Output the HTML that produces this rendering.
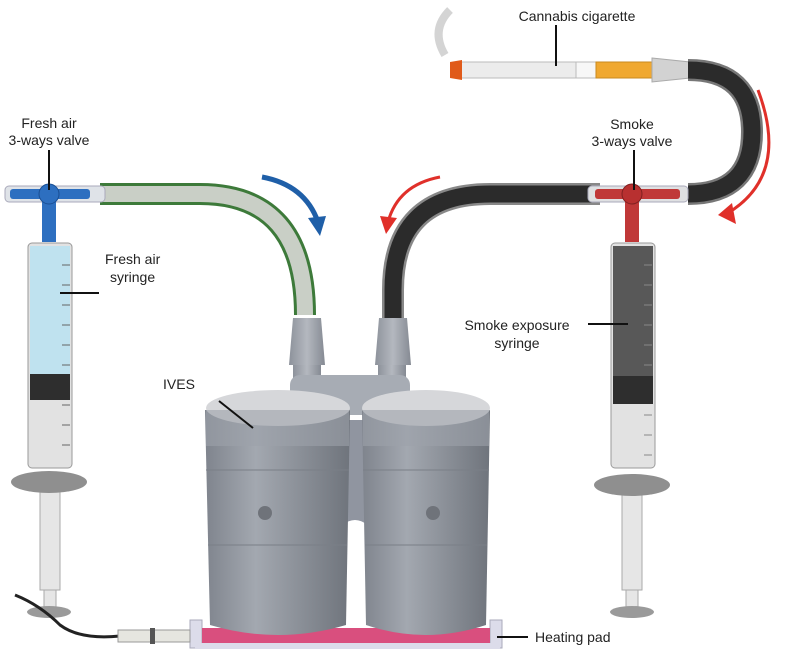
<!DOCTYPE html>
<html><head><meta charset="utf-8"><style>
html,body{margin:0;padding:0;background:#fff;}
svg{display:block;}
text{font-family:"Liberation Sans",sans-serif;font-size:14px;fill:#222;}
</style></head><body>
<svg width="791" height="654" viewBox="0 0 791 654" xmlns="http://www.w3.org/2000/svg">
<defs>
<linearGradient id="cyl" x1="0" x2="1" y1="0" y2="0">
<stop offset="0" stop-color="#7f848d"/><stop offset="0.35" stop-color="#a3a8b0"/><stop offset="1" stop-color="#6f747c"/>
</linearGradient>
<linearGradient id="noz" x1="0" x2="1"><stop offset="0" stop-color="#8d929b"/><stop offset="0.5" stop-color="#b4b8bf"/><stop offset="1" stop-color="#858a93"/></linearGradient>
</defs>

<!-- smoke wisp -->
<path d="M450,10 Q430,30 445,55" stroke="#d4d4d4" stroke-width="8" fill="none"/>

<!-- cigarette -->
<rect x="460" y="62" width="118" height="16" fill="#ececec" stroke="#bbb"/>
<rect x="576" y="62" width="20" height="16" fill="#f7f7f7" stroke="#bbb"/>
<rect x="596" y="62" width="56" height="16" fill="#f0a830" stroke="#c98a20"/>
<path d="M450,62 L462,60 L462,80 L450,78 Z" fill="#e05a1a"/>
<path d="M652,58 L690,62 L690,78 L652,82 Z" fill="#d2d2d2" stroke="#aaa"/>

<!-- right black tube from cigarette to valve -->
<path d="M688,70 Q752,70 752,132 Q752,194 688,194" stroke="#777" stroke-width="22" fill="none"/>
<path d="M688,70 Q752,70 752,132 Q752,194 688,194" stroke="#2b2b2b" stroke-width="17" fill="none"/>

<!-- green tube -->
<path d="M100,194 H200 Q305,194 305,315" stroke="#3d7a3a" stroke-width="22" fill="none"/>
<path d="M100,194 H200 Q305,194 305,315" stroke="#c9cfc6" stroke-width="16" fill="none"/>

<!-- black tube middle -->
<path d="M393,318 V290 Q393,194 490,194 H600" stroke="#888" stroke-width="22" fill="none"/>
<path d="M393,318 V290 Q393,194 490,194 H600" stroke="#2b2b2b" stroke-width="17" fill="none"/>

<!-- left valve -->
<rect x="5" y="186" width="100" height="16" rx="4" fill="#dfe3e8" stroke="#aab"/>
<rect x="10" y="189" width="80" height="10" rx="3" fill="#2d6fc0"/>
<rect x="42" y="194" width="14" height="48" fill="#2d6fc0"/>
<circle cx="49" cy="194" r="10" fill="#2d6fc0" stroke="#1a4f94"/>
<!-- right valve -->
<rect x="588" y="186" width="100" height="16" rx="4" fill="#dfe0e2" stroke="#aab"/>
<rect x="595" y="189" width="85" height="10" rx="3" fill="#c03838"/>
<rect x="625" y="194" width="14" height="48" fill="#c03838"/>
<circle cx="632" cy="194" r="10" fill="#b83030" stroke="#802020"/>

<!-- left syringe -->
<rect x="40" y="490" width="20" height="100" fill="#e6e6e6" stroke="#aaa"/>
<rect x="44" y="590" width="12" height="20" fill="#e6e6e6" stroke="#aaa"/>
<ellipse cx="49" cy="612" rx="22" ry="6" fill="#9a9a9a"/>
<rect x="28" y="243" width="44" height="225" rx="4" fill="#e2e2e2" stroke="#999"/>
<rect x="30" y="246" width="40" height="128" fill="#bfe2ef"/>
<rect x="30" y="374" width="40" height="26" fill="#2e2e2e"/>
<ellipse cx="49" cy="482" rx="38" ry="11" fill="#8f8f8f"/>
<g stroke="#666" stroke-width="1">
<line x1="62" y1="265" x2="70" y2="265"/><line x1="62" y1="285" x2="70" y2="285"/><line x1="62" y1="305" x2="70" y2="305"/><line x1="62" y1="325" x2="70" y2="325"/><line x1="62" y1="345" x2="70" y2="345"/><line x1="62" y1="365" x2="70" y2="365"/><line x1="62" y1="405" x2="70" y2="405"/><line x1="62" y1="425" x2="70" y2="425"/><line x1="62" y1="445" x2="70" y2="445"/>
</g>
<!-- right syringe -->
<rect x="622" y="490" width="20" height="100" fill="#e6e6e6" stroke="#aaa"/>
<rect x="626" y="590" width="12" height="20" fill="#e6e6e6" stroke="#aaa"/>
<ellipse cx="632" cy="612" rx="22" ry="6" fill="#9a9a9a"/>
<rect x="611" y="243" width="44" height="225" rx="4" fill="#e2e2e2" stroke="#999"/>
<rect x="613" y="246" width="40" height="130" fill="#585858"/>
<rect x="613" y="376" width="40" height="28" fill="#2e2e2e"/>
<ellipse cx="632" cy="485" rx="38" ry="11" fill="#8f8f8f"/>
<g stroke="#888" stroke-width="1">
<line x1="644" y1="265" x2="652" y2="265"/><line x1="644" y1="285" x2="652" y2="285"/><line x1="644" y1="305" x2="652" y2="305"/><line x1="644" y1="325" x2="652" y2="325"/><line x1="644" y1="345" x2="652" y2="345"/><line x1="644" y1="365" x2="652" y2="365"/><line x1="644" y1="415" x2="652" y2="415"/><line x1="644" y1="435" x2="652" y2="435"/><line x1="644" y1="455" x2="652" y2="455"/>
</g>

<!-- heating pad tray -->
<rect x="190" y="620" width="12" height="28" fill="#dcdcea" stroke="#aab"/>
<rect x="490" y="620" width="12" height="28" fill="#dcdcea" stroke="#aab"/>
<rect x="195" y="643" width="305" height="6" fill="#dcdcea"/>
<rect x="202" y="628" width="288" height="15" fill="#d94f7e"/>
<!-- cable -->
<path d="M15,595 Q40,605 60,625 Q80,640 120,636" stroke="#222" stroke-width="3" fill="none"/>
<rect x="118" y="630" width="72" height="12" fill="#e6e6e0" stroke="#999"/>
<rect x="150" y="628" width="5" height="16" fill="#555"/>

<!-- IVES -->
<rect x="293" y="330" width="28" height="70" fill="url(#noz)"/>
<rect x="378" y="330" width="28" height="70" fill="url(#noz)"/>
<path d="M293,318 L321,318 L325,365 L289,365 Z" fill="url(#noz)"/>
<path d="M379,318 L407,318 L411,365 L375,365 Z" fill="url(#noz)"/>
<rect x="290" y="375" width="120" height="40" rx="10" fill="#a7acb4"/>
<path d="M330,420 L380,420 L380,540 Q355,500 330,540 Z" fill="#9095a0"/>
<path d="M205,410 L350,410 L346,625 Q278,645 210,625 Z" fill="url(#cyl)"/>
<path d="M362,410 L490,410 L486,625 Q425,645 366,625 Z" fill="url(#cyl)"/>
<ellipse cx="278" cy="408" rx="72" ry="18" fill="#d6d7da"/>
<ellipse cx="426" cy="408" rx="64" ry="18" fill="#d6d7da"/>
<rect x="206" y="410" width="143" height="36" fill="#9da2aa" opacity="0.6"/>
<rect x="363" y="410" width="126" height="36" fill="#9da2aa" opacity="0.6"/>
<line x1="206" y1="470" x2="349" y2="470" stroke="#7a7f87"/>
<line x1="363" y1="470" x2="489" y2="470" stroke="#7a7f87"/>
<line x1="208" y1="545" x2="347" y2="545" stroke="#7a7f87"/>
<line x1="365" y1="545" x2="487" y2="545" stroke="#7a7f87"/>
<circle cx="265" cy="513" r="7" fill="#6f737a"/>
<circle cx="433" cy="513" r="7" fill="#6f737a"/>

<!-- arrows -->
<path d="M262,177 Q305,185 318,222" stroke="#1f5fa8" stroke-width="5" fill="none"/>
<path d="M308,218 L326,216 L320,236 Z" fill="#1f5fa8"/>
<path d="M440,177 Q398,185 388,222" stroke="#e0302a" stroke-width="3" fill="none"/>
<path d="M380,216 L397,218 L386,234 Z" fill="#e0302a"/>
<path d="M758,90 Q790,175 728,213" stroke="#e0302a" stroke-width="3" fill="none"/>
<path d="M732,203 L736,224 L718,215 Z" fill="#e0302a"/>

<!-- labels -->
<text x="49" y="128" text-anchor="middle">Fresh air</text>
<text x="49" y="145" text-anchor="middle">3-ways valve</text>
<line x1="49" y1="150" x2="49" y2="190" stroke="#111" stroke-width="2"/>
<text x="105" y="264">Fresh air</text>
<text x="110" y="282">syringe</text>
<line x1="60" y1="293" x2="99" y2="293" stroke="#111" stroke-width="2"/>
<text x="163" y="389">IVES</text>
<line x1="219" y1="401" x2="253" y2="428" stroke="#111" stroke-width="2"/>
<text x="577" y="21" text-anchor="middle">Cannabis cigarette</text>
<line x1="556" y1="25" x2="556" y2="66" stroke="#111" stroke-width="2"/>
<text x="632" y="129" text-anchor="middle">Smoke</text>
<text x="632" y="146" text-anchor="middle">3-ways valve</text>
<line x1="634" y1="150" x2="634" y2="190" stroke="#111" stroke-width="2"/>
<text x="517" y="330" text-anchor="middle">Smoke exposure</text>
<text x="517" y="348" text-anchor="middle">syringe</text>
<line x1="588" y1="324" x2="628" y2="324" stroke="#111" stroke-width="2"/>
<text x="535" y="642">Heating pad</text>
<line x1="497" y1="637" x2="528" y2="637" stroke="#111" stroke-width="2"/>
</svg>
</body></html>
